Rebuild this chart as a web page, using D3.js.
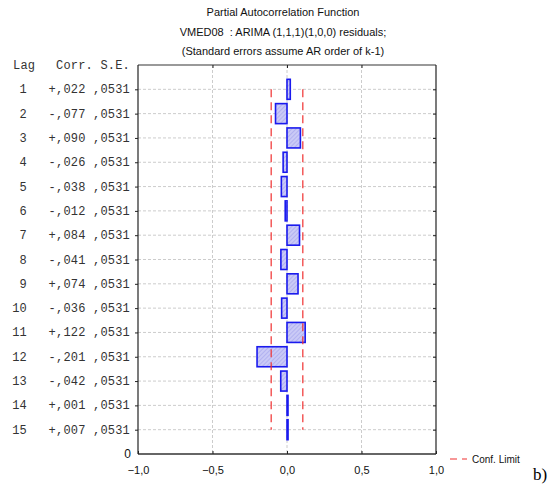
<!DOCTYPE html>
<html>
<head>
<meta charset="utf-8">
<script src="https://cdnjs.cloudflare.com/ajax/libs/d3/7.8.5/d3.min.js"></script>
<style>
  body { margin: 0; background: #fff; }
  svg { display: block; }
  .mono { font-family: "Liberation Mono", "DejaVu Sans Mono", monospace; font-size: 12px; letter-spacing: 0.2px; fill: #333; }
  .sans { font-family: "Liberation Sans", Arial, sans-serif; font-size: 11px; fill: #111; white-space: pre; }
</style>
</head>
<body>
<script>
const WIDTH = 560;
const HEIGHT = 488;

const lags = [1, 2, 3, 4, 5, 6, 7, 8, 9, 10, 11, 12, 13, 14, 15];
const corr = [0.022, -0.077, 0.090, -0.026, -0.038, -0.012, 0.084, -0.041, 0.074, -0.036, 0.122, -0.201, -0.042, 0.001, 0.007];
const corrLabels = ["+,022", "-,077", "+,090", "-,026", "-,038", "-,012", "+,084", "-,041", "+,074", "-,036", "+,122", "-,201", "-,042", "+,001", "+,007"];
const se = [0.0531, 0.0531, 0.0531, 0.0531, 0.0531, 0.0531, 0.0531, 0.0531, 0.0531, 0.0531, 0.0531, 0.0531, 0.0531, 0.0531, 0.0531];
const seLabels = [",0531", ",0531", ",0531", ",0531", ",0531", ",0531", ",0531", ",0531", ",0531", ",0531", ",0531", ",0531", ",0531", ",0531", ",0531"];
const xTicks = [-1, -0.5, 0, 0.5, 1];
const titles = ["Partial Autocorrelation Function",
                "VMED08  : ARIMA (1,1,1)(1,0,0) residuals;",
                "(Standard errors assume AR order of k-1)"];

const M = { left: 138, right: 436, top: 65, bottom: 454 };

const svg = d3.select("body").append("svg")
              .attr("width", WIDTH)
              .attr("height", HEIGHT);

const x = d3.scaleLinear().domain([-1, 1]).range([M.left, M.right]);
const y = d3.scaleLinear().domain([0, 16]).range([M.top, M.bottom]);
const fmt = d => d3.format(".1f")(d).replace(".", ",");

// hatch pattern for bars
const defs = svg.append("defs");
const pat = defs.append("pattern")
  .attr("id", "hatch")
  .attr("patternUnits", "userSpaceOnUse")
  .attr("width", 3).attr("height", 3)
  .attr("patternTransform", "rotate(45)");
pat.append("rect").attr("width", 3).attr("height", 3).attr("fill", "#cacaf6");
pat.append("line").attr("x1", 0).attr("y1", 0).attr("x2", 0).attr("y2", 3)
   .attr("stroke", "#9a9aea").attr("stroke-width", 1);

// titles
svg.selectAll("text.title")
   .data(titles)
   .join("text")
   .attr("class", "sans")
   .attr("x", 283)
   .attr("y", (d, i) => 16 + i * 19.5)
   .attr("text-anchor", "middle")
   .text(d => d);

// grid lines
svg.append("g")
   .selectAll("line")
   .data(lags)
   .join("line")
   .attr("x1", M.left).attr("x2", M.right)
   .attr("y1", d => y(d)).attr("y2", d => y(d))
   .attr("stroke", "#ccc").attr("stroke-dasharray", "3,2");

svg.append("g")
   .selectAll("line")
   .data(xTicks.slice(1, -1))
   .join("line")
   .attr("x1", d => x(d)).attr("x2", d => x(d))
   .attr("y1", M.top).attr("y2", M.bottom)
   .attr("stroke", "#ccc").attr("stroke-dasharray", "3,2");

// bars
const bh = 20;
svg.append("g")
   .selectAll("rect")
   .data(lags)
   .join("rect")
   .attr("x", (d, i) => Math.min(x(0), x(corr[i])))
   .attr("y", d => y(d) - bh / 2)
   .attr("width", (d, i) => Math.max(Math.abs(x(corr[i]) - x(0)), 1))
   .attr("height", bh)
   .attr("fill", "url(#hatch)")
   .attr("stroke", "#1a1aee")
   .attr("stroke-width", 1.6);

// confidence limits (2 * S.E.)
const lim = 2 * se[0];
svg.append("g")
   .selectAll("line")
   .data([-lim, lim])
   .join("line")
   .attr("x1", d => x(d)).attr("x2", d => x(d))
   .attr("y1", y(lags[0])).attr("y2", y(lags[lags.length - 1]))
   .attr("stroke", "#f03030").attr("stroke-width", 1.2)
   .attr("stroke-dasharray", "8,5");

// frame
svg.append("line").attr("x1", M.left).attr("x2", M.right).attr("y1", M.top).attr("y2", M.top)
   .attr("stroke", "#777").attr("stroke-width", 1.5);
svg.append("line").attr("x1", M.left).attr("x2", M.right).attr("y1", M.bottom).attr("y2", M.bottom)
   .attr("stroke", "#666").attr("stroke-width", 2);
svg.append("line").attr("x1", M.left).attr("x2", M.left).attr("y1", M.top).attr("y2", M.bottom)
   .attr("stroke", "#222").attr("stroke-width", 1.2);
svg.append("line").attr("x1", M.right).attr("x2", M.right).attr("y1", M.top).attr("y2", M.bottom)
   .attr("stroke", "#222").attr("stroke-width", 1.2);

// axes ticks
const xAxisB = d3.axisBottom(x).tickValues(xTicks).tickSize(3).tickFormat(fmt);
const gB = svg.append("g").attr("transform", `translate(0,${M.bottom})`).call(xAxisB);
gB.select(".domain").remove();
gB.selectAll("line").attr("stroke", "#222").attr("y2", -3);
gB.selectAll("text").attr("class", "sans").attr("fill", null).attr("y", 12).attr("dy", "0.71em");

const xAxisT = d3.axisTop(x).tickValues(xTicks.slice(1, -1)).tickSize(3).tickFormat("");
const gT = svg.append("g").attr("transform", `translate(0,${M.top})`).call(xAxisT);
gT.select(".domain").remove();
gT.selectAll("line").attr("stroke", "#222").attr("y2", 3);

const yAxisL = d3.axisLeft(y).tickValues(lags).tickSize(3).tickFormat("");
const gL = svg.append("g").attr("transform", `translate(${M.left},0)`).call(yAxisL);
gL.select(".domain").remove();
gL.selectAll("line").attr("stroke", "#222");

const yAxisR = d3.axisRight(y).tickValues(lags).tickSize(3).tickFormat("");
const gR = svg.append("g").attr("transform", `translate(${M.right},0)`).call(yAxisR);
gR.select(".domain").remove();
gR.selectAll("line").attr("stroke", "#222").attr("x2", -3);

// table of values on the left
svg.append("text").attr("class", "mono").attr("x", 13).attr("y", y(0) + 4).text("Lag");
svg.append("text").attr("class", "mono").attr("x", 130).attr("y", y(0) + 4)
   .attr("text-anchor", "end").text("Corr. S.E.");

const rows = svg.append("g");
rows.selectAll("text.lag")
    .data(lags)
    .join("text")
    .attr("class", "mono lag")
    .attr("x", 27).attr("y", d => y(d) + 4)
    .attr("text-anchor", "end")
    .text(d => d);
rows.selectAll("text.corr")
    .data(lags)
    .join("text")
    .attr("class", "mono corr")
    .attr("x", 130).attr("y", d => y(d) + 4)
    .attr("text-anchor", "end")
    .text((d, i) => corrLabels[i] + " " + seLabels[i]);

svg.append("text").attr("class", "sans").attr("x", 131).attr("y", M.bottom + 4)
   .attr("text-anchor", "end").style("font-size", "12px").text("0");

// legend
svg.append("line").attr("x1", 450).attr("x2", 467).attr("y1", 459).attr("y2", 459)
   .attr("stroke", "#f03030").attr("stroke-width", 1.2).attr("stroke-dasharray", "7,5");
svg.append("text").attr("class", "sans").attr("x", 472).attr("y", 463)
   .style("font-size", "10px").text("Conf. Limit");

svg.append("text").attr("x", 533).attr("y", 480)
   .style("font-family", "'Liberation Serif', 'Times New Roman', serif")
   .style("font-size", "17px")
   .text("b)");
</script>
</body>
</html>
